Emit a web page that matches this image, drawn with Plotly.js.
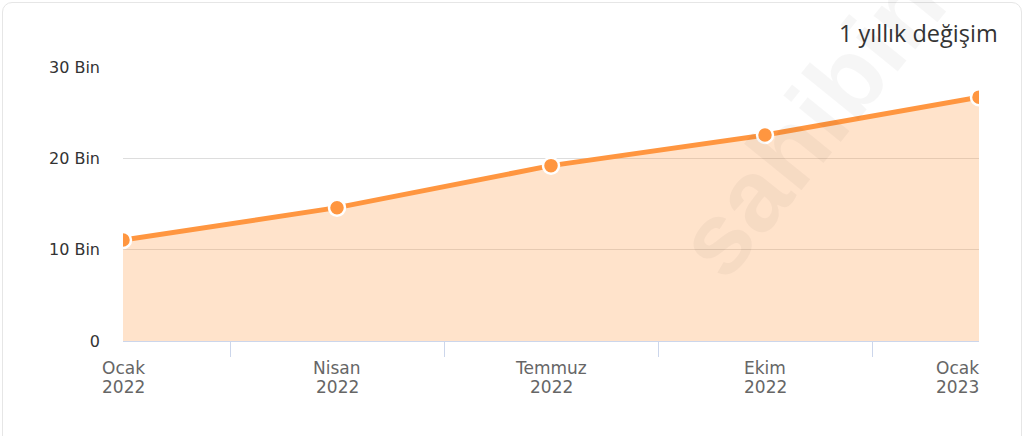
<!DOCTYPE html>
<html><head><meta charset="utf-8">
<script src="https://cdn.plot.ly/plotly-3.0.1.min.js"></script>
<style>
html,body{margin:0;padding:0;background:#fff;overflow:hidden;}
#wrap{position:absolute;left:2px;top:2px;width:1018px;height:450px;border:1px solid #e6e6e6;border-radius:10px;}
#chart{position:absolute;left:0;top:0;width:1026px;height:436px;}
</style></head>
<body>
<div id="wrap"></div>
<div id="chart"></div>
<script>
const categories = ["Ocak 2022","Nisan 2022","Temmuz 2022","Ekim 2022","Ocak 2023"];
const monthLabels = ["Ocak","Nisan","Temmuz","Ekim","Ocak"];
const yearLabels = ["2022","2022","2022","2022","2023"];
const values = [11.05, 14.6, 19.2, 22.55, 26.7];
const yTickVals = [0, 10, 20, 30];
const yTickText = ["0", "10 Bin", "20 Bin", "30 Bin"];
const titleText = "1 yıllık değişim";
const watermark = "sahibinden";

const trace = {
  type: 'scatter', mode: 'lines+markers',
  x: categories, y: values,
  fill: 'tozeroy', fillcolor: 'rgba(255,150,64,0.27)',
  line: {color: '#ff9640', width: 5},
  marker: {color: '#ff9640', size: 16, line: {color: '#ffffff', width: 2.5}},
  hoverinfo: 'skip'
};

const lastIdx = categories.length - 1;
const xLabelAnnots = [];
categories.forEach((c, i) => {
  [[monthLabels[i], -15], [yearLabels[i], -34]].forEach(([t, sh]) => {
    xLabelAnnots.push({
      text: t, x: c, xref: 'x', y: 0, yref: 'paper', yshift: sh,
      xanchor: i === lastIdx ? 'right' : 'center', xshift: i === lastIdx ? 2 : 0,
      yanchor: 'top', showarrow: false,
      font: {family: 'DejaVu Sans, sans-serif', size: 17, color: '#666'}
    });
  });
});

const layout = {
  width: 1026, height: 436,
  paper_bgcolor: 'rgba(0,0,0,0)', plot_bgcolor: 'rgba(0,0,0,0)',
  margin: {l: 123, r: 47, t: 67, b: 95},
  showlegend: false,
  font: {family: 'DejaVu Sans, sans-serif', color: '#333'},
  xaxis: {
    type: 'category', range: [0, 4], tickson: 'boundaries',
    ticks: 'outside', ticklen: 15, tickcolor: '#ccd6eb', tickwidth: 1,
    showline: true, linecolor: '#ccd6eb', linewidth: 1,
    showgrid: false, zeroline: false, showticklabels: false,
    fixedrange: true
  },
  yaxis: {
    range: [0, 30], tickvals: yTickVals, ticktext: yTickText,
    showgrid: true, gridcolor: '#dddddd', gridwidth: 1,
    zeroline: false, showline: false, ticks: '',
    ticklabelstandoff: 22,
    tickfont: {size: 16, color: '#333'}, fixedrange: true
  },
  annotations: [
    {text: '<b>' + watermark + '</b>', xref: 'paper', yref: 'paper', x: 0.87, y: 1.05,
     xanchor: 'center', yanchor: 'middle', showarrow: false, textangle: -51,
     font: {family: 'Liberation Sans, Arial, sans-serif', size: 102, color: 'rgba(0,0,0,0.035)'}},
    {text: titleText, xref: 'paper', yref: 'paper', x: 1.0245, y: 1.124,
     xanchor: 'right', yanchor: 'middle', showarrow: false,
     font: {family: 'Open Sans, sans-serif', size: 23.5, color: '#333'}}
  ].concat(xLabelAnnots)
};

Plotly.newPlot('chart', [trace], layout, {displayModeBar: false, staticPlot: true});
</script>
</body></html>
